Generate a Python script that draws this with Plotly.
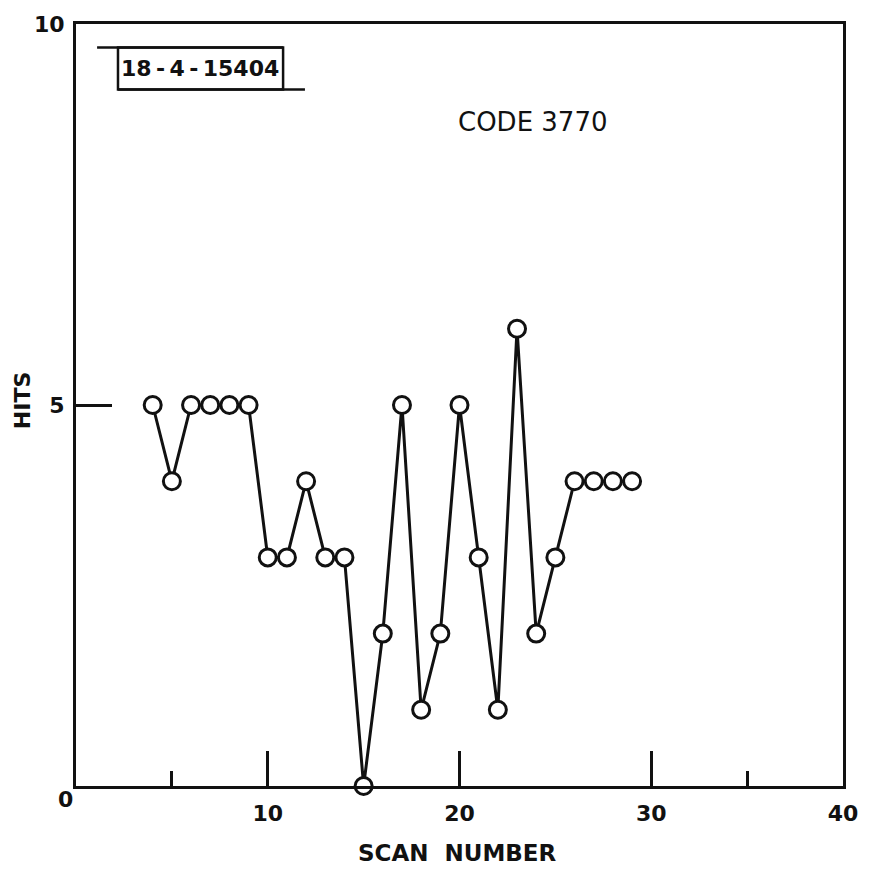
import plotly.graph_objects as go

# Hits recorded per scan
scan_number = [4, 5, 6, 7, 8, 9, 10, 11, 12, 13, 14, 15, 16, 17, 18, 19, 20,
               21, 22, 23, 24, 25, 26, 27, 28, 29]
hits = [5, 4, 5, 5, 5, 5, 3, 3, 4, 3, 3, 0, 2, 5, 1, 2, 5,
        3, 1, 6, 2, 3, 4, 4, 4, 4]

x_major_ticks = [10, 20, 30, 40]
x_minor_ticks = [5, 35]
y_ticks = [5, 10]

chart_id = "18\u2009-\u20094\u2009-\u200915404"
code_label = "CODE 3770"

FONT = "DejaVu Sans, Verdana, sans-serif"
INK = "#111111"

fig = go.Figure()
fig.add_trace(go.Scatter(
    x=scan_number, y=hits, mode="lines+markers",
    line=dict(color=INK, width=3),
    marker=dict(symbol="circle", size=17, color="white",
                line=dict(color=INK, width=3)),
    cliponaxis=False, showlegend=False,
))

tick_font = dict(size=22, family=FONT, weight="bold")

fig.update_layout(
    width=870, height=870,
    margin=dict(l=76, r=27, t=21, b=84),
    paper_bgcolor="white", plot_bgcolor="white",
    font=dict(family=FONT, color=INK, size=19),
    xaxis=dict(
        range=[0, 40], showgrid=False, zeroline=False,
        showline=True, linecolor=INK, linewidth=3, mirror=True,
        tickmode="array", tickvals=x_major_ticks,
        ticks="inside", ticklen=35, tickwidth=2.5, tickcolor=INK,
        ticklabelstandoff=6,
        minor=dict(tickmode="array", tickvals=x_minor_ticks, ticks="inside",
                   ticklen=15, tickwidth=2.5, tickcolor=INK),
        tickfont=tick_font,
    ),
    yaxis=dict(
        range=[0, 10], showgrid=False, zeroline=False,
        showline=True, linecolor=INK, linewidth=3, mirror=True,
        tickmode="array", tickvals=y_ticks,
        ticks="inside", ticklen=36, tickwidth=2.5, tickcolor=INK,
        ticklabelstandoff=4,
        tickfont=tick_font,
    ),
)

# Shared origin label
fig.add_annotation(x=-0.014, y=-0.018, xref="paper", yref="paper",
                   xanchor="center", yanchor="middle",
                   text="0", showarrow=False, font=tick_font)

# Axis titles
fig.add_annotation(x=-0.0704, y=0.505, xref="paper", yref="paper",
                   xanchor="center", yanchor="middle",
                   text="HITS", textangle=-90, showarrow=False,
                   font=dict(size=22, family=FONT, weight="bold"))
fig.add_annotation(x=0.498, y=-0.0876, xref="paper", yref="paper",
                   xanchor="center", yanchor="middle",
                   text="SCAN  NUMBER", showarrow=False,
                   font=dict(size=23, family=FONT, weight="bold"))

# Identification tag in the upper-left corner
fig.add_shape(type="rect", x0=2.19, x1=10.80, y0=9.14, y1=9.69,
              line=dict(color=INK, width=2.5))
fig.add_shape(type="line", x0=1.10, x1=10.80, y0=9.69, y1=9.69,
              line=dict(color=INK, width=2.5))
fig.add_shape(type="line", x0=2.19, x1=11.94, y0=9.14, y1=9.14,
              line=dict(color=INK, width=2.5))
fig.add_annotation(x=6.47, y=9.41, text=chart_id, showarrow=False,
                   xanchor="center", yanchor="middle",
                   font=dict(size=22, family=FONT, weight="bold"))

fig.add_annotation(x=23.83, y=8.71, text=code_label, showarrow=False,
                   xanchor="center", yanchor="middle",
                   font=dict(size=26, family=FONT))

fig.write_html("out.html")
